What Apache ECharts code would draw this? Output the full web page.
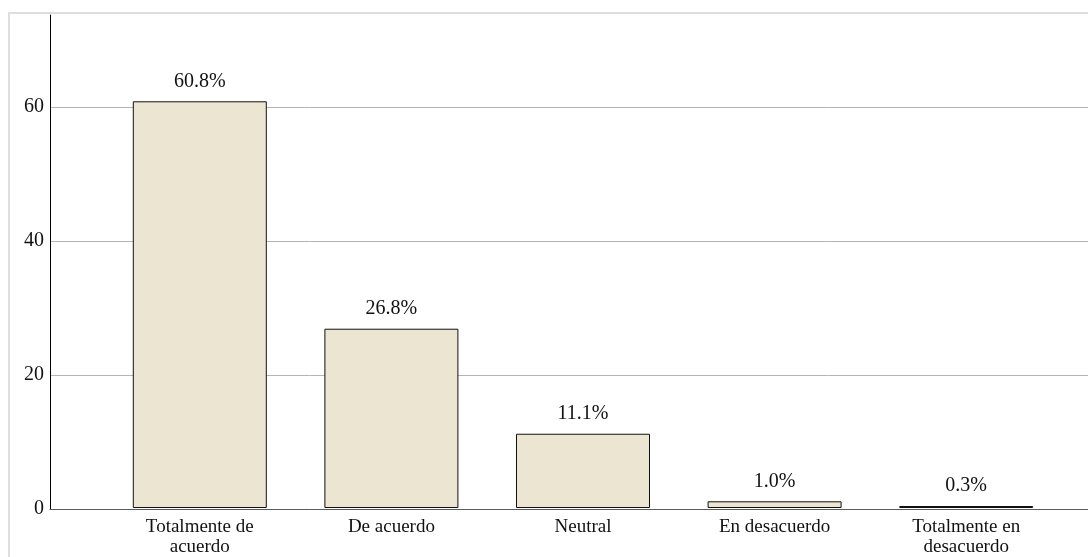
<!DOCTYPE html>
<html>
<head>
<meta charset="utf-8">
<script src="https://cdn.jsdelivr.net/npm/echarts@6/dist/echarts.min.js"></script>
<style>
html,body{margin:0;padding:0;background:#fff;}
#chart{width:1088px;height:557px;}
</style>
</head>
<body>
<div id="chart"></div>
<script>
var categories = ['Totalmente de\nacuerdo', 'De acuerdo', 'Neutral', 'En desacuerdo', 'Totalmente en\ndesacuerdo'];
var values = [60.8, 26.8, 11.1, 1.0, 0.3];
var yTicks = [0, 20, 40, 60];
var yMax = 73.7;

var FONT = 'Liberation Serif';
var chart = echarts.init(document.getElementById('chart'));
chart.setOption({
  backgroundColor: '#fff',
  animation: false,
  graphic: [{
    type: 'rect', z: -10, silent: true,
    shape: {x: 9, y: 13, width: 1200, height: 700},
    style: {fill: 'none', stroke: '#dedede', lineWidth: 2}
  }],
  grid: [
    {left: 50, right: 0, top: 15, bottom: 48},
    {left: 104, right: 26, top: 15, bottom: 48}
  ],
  xAxis: [
    {gridIndex: 0, type: 'category', data: [''],
     axisLine: {show: true, lineStyle: {color: '#5a5a5a', width: 1}},
     axisTick: {show: false}, axisLabel: {show: false}, splitLine: {show: false}},
    {gridIndex: 1, type: 'category', data: categories,
     axisLine: {show: false}, axisTick: {show: false},
     axisLabel: {fontFamily: FONT, fontSize: 19, color: '#111', lineHeight: 20, margin: 9}}
  ],
  yAxis: [
    {gridIndex: 0, type: 'value', min: 0, max: yMax, interval: 20,
     axisLine: {show: true, lineStyle: {color: '#000', width: 1}},
     axisTick: {show: false},
     axisLabel: {fontFamily: FONT, fontSize: 20, color: '#111', margin: 6, showMaxLabel: false,
       formatter: function (v) { return yTicks.indexOf(v) >= 0 ? String(v) : ''; }},
     splitLine: {show: true, showMaxLine: false, lineStyle: {color: '#b4b4b4', width: 1}}},
    {gridIndex: 1, type: 'value', min: 0, max: yMax, interval: 20, show: false,
     splitLine: {show: false}}
  ],
  series: [{
    type: 'bar', xAxisIndex: 1, yAxisIndex: 1,
    data: values, barWidth: 134,
    itemStyle: {color: '#ece5d1', borderColor: '#111', borderWidth: 1},
    label: {show: true, position: 'top', distance: 10, fontFamily: FONT, fontSize: 20, color: '#111',
      formatter: function (p) { return p.value.toFixed(1) + '%'; }}
  }]
});
</script>
</body>
</html>
